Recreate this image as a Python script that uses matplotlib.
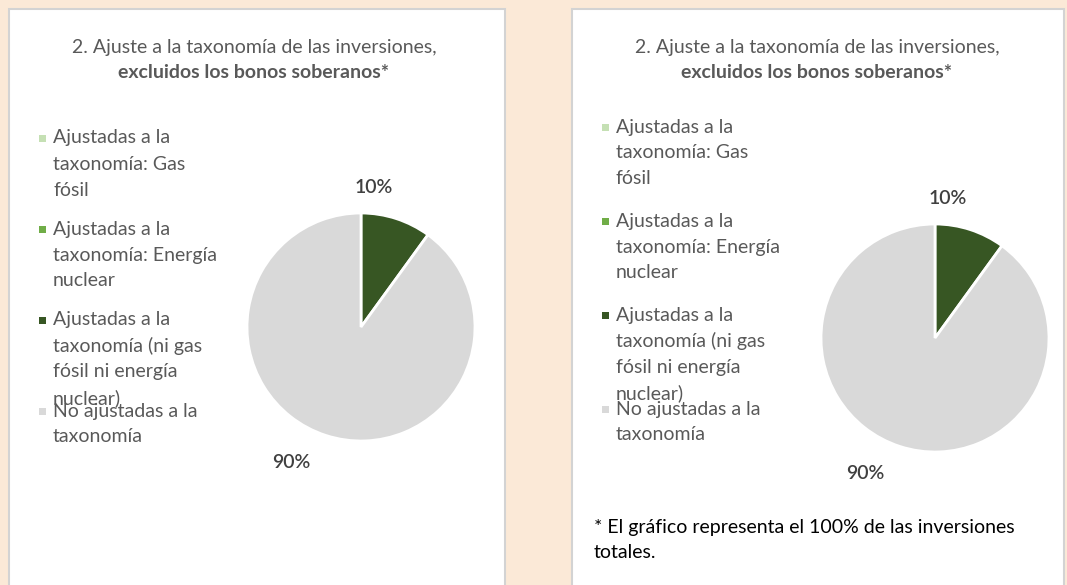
import matplotlib.pyplot as plt
from matplotlib.patches import Rectangle

# datos
categorias = [
    ["Ajustadas a la", "taxonomía: Gas", "fósil"],
    ["Ajustadas a la", "taxonomía: Energía", "nuclear"],
    ["Ajustadas a la", "taxonomía (ni gas", "fósil ni energía", "nuclear)"],
    ["No ajustadas a la", "taxonomía"],
]
valores = [0, 0, 10, 90]
colores = ["#C5E0B4", "#70AD47", "#375623", "#D9D9D9"]
titulo1 = "2. Ajuste a la taxonomía de las inversiones,"
titulo2 = "excluidos los bonos soberanos*"
nota = ["* El gráfico representa el 100% de las inversiones", "totales."]

plt.rcParams['font.family'] = ['Lato', 'DejaVu Sans']

W, H = 1067, 585
fig = plt.figure(figsize=(W / 100, H / 100), dpi=100)
fig.patch.set_facecolor("#FBE9D7")
bg = fig.add_axes([0, 0, 1, 1])
bg.set_xlim(0, W)
bg.set_ylim(H, 0)
bg.axis("off")

# paneles: bordes, centro del titulo, leyenda y centro del pie (pixeles)
paneles = [
    dict(x0=9, x1=505, tx=254, lx=42, ly=138, paso=91, cx=361, cy=327),
    dict(x0=572, x1=1064, tx=817, lx=605, ly=127, paso=94, cx=935, cy=338),
]
R = 114
gris = "#595959"
fs = 14

for p in paneles:
    bg.add_patch(Rectangle((p["x0"], 9), p["x1"] - p["x0"], H + 20,
                           facecolor="white", edgecolor="#D3D3D3", lw=1.5))
    bg.text(p["tx"], 47, titulo1, ha="center", va="center", fontsize=fs, color=gris)
    bg.text(p["tx"], 73, titulo2, ha="center", va="center", fontsize=fs,
            color=gris, fontweight="bold")

    # leyenda manual (Excel reserva la misma altura para cada entrada)
    for i, (lineas, c) in enumerate(zip(categorias, colores)):
        y0 = p["ly"] + i * p["paso"]
        bg.add_patch(Rectangle((p["lx"] - 3.5, y0 - 3.5), 7, 7, facecolor=c, lw=0))
        for j, linea in enumerate(lineas):
            bg.text(p["lx"] + 11, y0 + j * 26, linea, ha="left", va="center",
                    fontsize=fs, color=gris)

    ax = fig.add_axes([(p["cx"] - R) / W, 1 - (p["cy"] + R) / H, 2 * R / W, 2 * R / H])
    vals = [v for v in valores if v > 0]
    cols = [c for v, c in zip(valores, colores) if v > 0]
    ax.pie(vals, colors=cols, startangle=90, counterclock=False, radius=1,
           wedgeprops=dict(edgecolor="white", linewidth=2))
    ax.set_xlim(-1, 1)
    ax.set_ylim(-1, 1)
    ax.set_aspect("equal")
    ax.axis("off")
    pos_etiquetas = [(0.11, 1.22), (-0.61, -1.19)]
    for v, (ex, ey) in zip(vals, pos_etiquetas):
        ax.text(ex, ey, f"{v}%", ha="center", va="center", fontsize=14,
                color="#404040", fontweight="semibold", clip_on=False)

bg.text(594, 528, nota[0], ha="left", va="center", fontsize=fs, color="black")
bg.text(594, 553, nota[1], ha="left", va="center", fontsize=fs, color="black")

fig.savefig("out.png", dpi=100, facecolor=fig.get_facecolor())
